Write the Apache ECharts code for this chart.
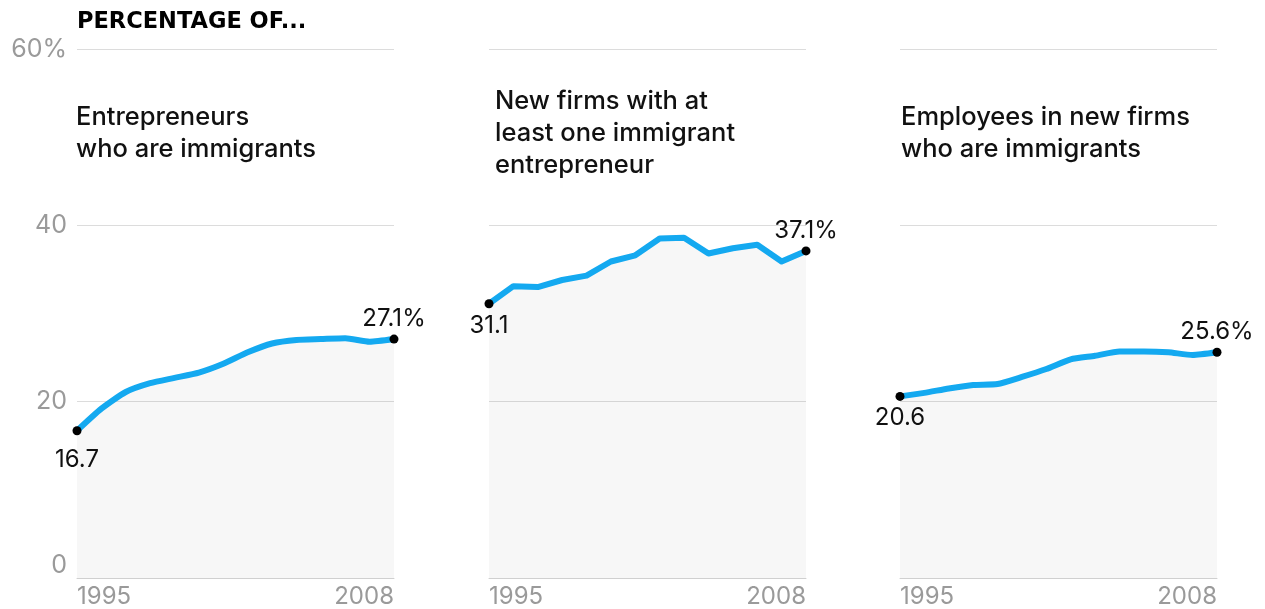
<!DOCTYPE html>
<html>
<head>
<meta charset="utf-8">
<script src="https://cdn.jsdelivr.net/npm/echarts@6/dist/echarts.min.js"></script>
<style>
html,body{margin:0;padding:0;background:#fff;}
#container{width:1265px;height:609px;}
</style>
</head>
<body>
<div id="container"></div>
<script>
var years = ['1995','1996','1997','1998','1999','2000','2001','2002','2003','2004','2005','2006','2007','2008'];
// entrepreneurs who are immigrants (%)
var entrepreneurs = [16.7,19.2,21.1,22.1,22.7,23.3,24.3,25.6,26.6,27.0,27.1,27.2,26.8,27.1];
// new firms with at least one immigrant entrepreneur (%)
var newFirms = [31.1,33.1,33.0,33.8,34.3,35.9,36.6,38.5,38.6,36.8,37.4,37.8,35.9,37.1];
// employees in new firms who are immigrants (%)
var employees = [20.6,21.0,21.5,21.9,22.0,22.8,23.7,24.8,25.2,25.7,25.7,25.6,25.3,25.6];
var yTicks = [0,20,40,60];
var subtitles = ['Entrepreneurs\nwho are immigrants','New firms with at\nleast one immigrant\nentrepreneur','Employees in new firms\nwho are immigrants'];

var font = 'Inter, "Noto Sans", sans-serif';
var lefts = [77,489,900];
var firstDist = [13,5,5];

function buildData(arr, k){
	return arr.map(function(v,i){
		if(i===0){
			return {value:v, symbol:'circle', symbolSize:9,
				label:{show:true, position:'bottom', distance:firstDist[k], formatter:String(v)}};
		}
		if(i===arr.length-1){
			return {value:v, symbol:'circle', symbolSize:9,
				label:{show:true, position:'top', distance:4, formatter:v+'%'}};
		}
		return {value:v, symbol:'none'};
	});
}

var myChart = echarts.init(document.getElementById('container'));
var grids=[], xAxes=[], yAxes=[], series=[];
var allData=[entrepreneurs,newFirms,employees];
for(var k=0;k<3;k++){
	grids.push({left:lefts[k], top:49, width:317, height:531});
	xAxes.push({
		type:'category', gridIndex:k, data:years, boundaryGap:false,
		axisLine:{lineStyle:{color:'#d0d0d0',width:1}},
		axisTick:{show:false},
		axisLabel:{
			interval:function(i){return i===0||i===13;},
			alignMinLabel:'left', alignMaxLabel:'right',
			color:'#9a9a9a', fontSize:24, fontFamily:font, margin:7
		}
	});
	yAxes.push({
		type:'value', gridIndex:k, min:0, max:60, interval:20,
		axisLine:{show:false}, axisTick:{show:false},
		splitLine:{lineStyle:{color:'#dcdcdc',width:1}},
		axisLabel:{
			show:k===0,
			color:'#9a9a9a', fontSize:25, fontFamily:font, margin:10,
			verticalAlignMinLabel:'bottom',
			formatter:function(v){return v===60?'60%':String(v);}
		}
	});
	series.push({
		type:'line', xAxisIndex:k, yAxisIndex:k,
		data:buildData(allData[k],k),
		smooth:k===1?false:0.2,
		symbol:'none',
		lineStyle:{color:'#14a9f0',width:6,cap:'round',join:'round'},
		itemStyle:{color:'#000'},
		areaStyle:{color:'rgba(0,0,0,0.045)'},
		label:{color:'#111',fontSize:24,fontFamily:font},
		z:3
	});
}

var titles=[{
	text:'PERCENTAGE OF...', left:77, top:10, padding:0,
	textStyle:{fontFamily:'"DejaVu Sans", sans-serif',fontSize:22.5,fontWeight:'bold',color:'#000',lineHeight:24}
}];
var subTops=[101,85,101];
var subLefts=[76,495,901];
for(var j=0;j<3;j++){
	titles.push({
		text:subtitles[j], left:subLefts[j], top:subTops[j], padding:0,
		textStyle:{fontFamily:font,fontSize:25.5,fontWeight:500,color:'#111',lineHeight:32}
	});
}

myChart.setOption({
	animation:false,
	title:titles,
	grid:grids,
	xAxis:xAxes,
	yAxis:yAxes,
	series:series
});
</script>
</body>
</html>
